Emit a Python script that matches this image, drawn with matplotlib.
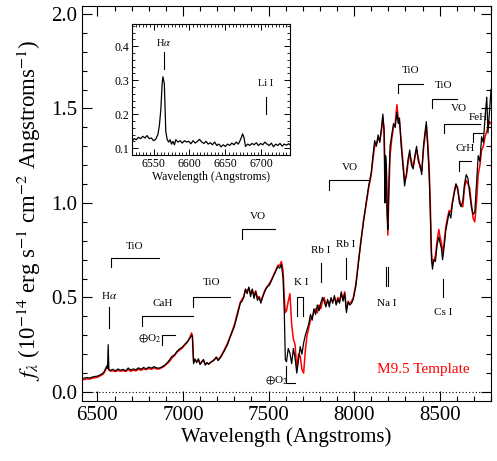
import matplotlib
matplotlib.use("Agg")
import matplotlib.pyplot as plt
from matplotlib.ticker import MultipleLocator

plt.rcParams['font.family'] = ['Liberation Serif', 'DejaVu Serif']
plt.rcParams['mathtext.fontset'] = 'stix'

# ---------------- data ----------------
wave = [6410, 6425, 6440, 6455, 6470, 6485, 6500, 6515, 6530, 6540, 6548, 6555, 6559, 6563, 6567, 6575,
        6590, 6605, 6620, 6635, 6650, 6665, 6680, 6695, 6710, 6725, 6740, 6755, 6770, 6785, 6800, 6815,
        6830, 6845, 6860, 6875, 6890, 6905, 6920, 6935, 6950, 6965, 6980, 6995, 7010, 7025, 7040, 7050,
        7055, 7062, 7070, 7080, 7090, 7100, 7110, 7120, 7130, 7140, 7150, 7165, 7180, 7195, 7205, 7220,
        7240, 7260, 7280, 7300, 7320, 7335, 7345, 7355, 7365, 7375, 7385, 7395, 7405, 7415, 7425, 7435,
        7445, 7455, 7465, 7475, 7485, 7495, 7505, 7515, 7525, 7535, 7545, 7555, 7565, 7575, 7585, 7592,
        7598, 7605, 7615, 7625, 7635, 7645, 7655, 7665, 7675, 7685, 7695, 7705, 7715, 7725, 7735, 7745,
        7755, 7765, 7775, 7785, 7795, 7805, 7815, 7825, 7835, 7845, 7855, 7865, 7875, 7885, 7895, 7905,
        7915, 7925, 7935, 7945, 7955, 7965, 7975, 7985, 7995, 8010, 8025, 8040, 8055, 8070, 8085, 8100,
        8110, 8120, 8130, 8140, 8150, 8160, 8168, 8175, 8180, 8184, 8188, 8192, 8197, 8203, 8210, 8220,
        8230, 8240, 8250, 8258, 8265, 8275, 8285, 8295, 8305, 8315, 8325, 8335, 8345, 8355, 8365, 8375,
        8385, 8395, 8405, 8415, 8422, 8430, 8438, 8445, 8452, 8458, 8465, 8475, 8485, 8495, 8502, 8510,
        8517, 8525, 8535, 8545, 8555, 8565, 8575, 8585, 8595, 8605, 8615, 8625, 8635, 8645, 8655, 8665,
        8675, 8685, 8695, 8705, 8715, 8725, 8735, 8745, 8755, 8765, 8775, 8782, 8792, 8800]

flux_obs = [0.072, 0.074, 0.076, 0.074, 0.079, 0.082, 0.084, 0.090, 0.098, 0.108, 0.125, 0.138, 0.125, 0.250, 0.118, 0.115,
            0.120, 0.112, 0.122, 0.115, 0.120, 0.112, 0.127, 0.116, 0.122, 0.118, 0.128, 0.120, 0.130, 0.122, 0.132, 0.126,
            0.134, 0.128, 0.126, 0.132, 0.140, 0.152, 0.168, 0.188, 0.196, 0.215, 0.228, 0.236, 0.252, 0.266, 0.285, 0.300,
            0.292, 0.150, 0.175, 0.155, 0.176, 0.145, 0.162, 0.172, 0.142, 0.156, 0.146, 0.160, 0.166, 0.186, 0.166, 0.182,
            0.215, 0.250, 0.300, 0.345, 0.415, 0.470, 0.480, 0.500, 0.545, 0.520, 0.555, 0.505, 0.545, 0.495, 0.530, 0.485,
            0.500, 0.470, 0.500, 0.525, 0.545, 0.560, 0.565, 0.585, 0.605, 0.625, 0.645, 0.665, 0.655, 0.675, 0.600, 0.420,
            0.170, 0.160, 0.230, 0.205, 0.150, 0.230, 0.180, 0.100, 0.170, 0.240, 0.200, 0.260, 0.300, 0.330, 0.360, 0.410,
            0.380, 0.440, 0.410, 0.460, 0.430, 0.470, 0.500, 0.480, 0.450, 0.490, 0.450, 0.500, 0.470, 0.510, 0.460, 0.490,
            0.470, 0.530, 0.480, 0.520, 0.420, 0.480, 0.460, 0.470, 0.490, 0.560, 0.680, 0.800, 0.900, 1.000, 1.090, 1.160,
            1.250, 1.330, 1.300, 1.360, 1.320, 1.400, 1.470, 1.380, 1.000, 1.250, 1.200, 0.950, 0.860, 1.100, 1.300, 1.360,
            1.420, 1.400, 1.480, 1.420, 1.450, 1.300, 1.200, 1.090, 1.150, 1.230, 1.280, 1.200, 1.180, 1.250, 1.300, 1.220,
            1.200, 1.150, 1.300, 1.380, 1.430, 1.300, 1.160, 0.950, 0.700, 0.650, 0.700, 0.690, 0.780, 0.820, 0.790, 0.760,
            0.700, 0.760, 0.850, 0.900, 0.950, 0.920, 1.000, 1.050, 1.100, 1.080, 1.000, 0.980, 1.010, 1.100, 1.150, 1.130,
            1.050, 0.980, 0.940, 0.950, 1.100, 1.250, 1.220, 1.350, 1.320, 1.450, 1.560, 1.370, 1.500, 1.600]

flux_tmpl = [0.065, 0.066, 0.070, 0.068, 0.073, 0.076, 0.078, 0.085, 0.092, 0.102, 0.118, 0.130, 0.128, 0.125, 0.118, 0.110,
             0.112, 0.108, 0.114, 0.110, 0.113, 0.108, 0.118, 0.110, 0.115, 0.112, 0.120, 0.115, 0.122, 0.118, 0.125, 0.120,
             0.128, 0.122, 0.122, 0.128, 0.135, 0.148, 0.160, 0.180, 0.192, 0.210, 0.222, 0.232, 0.248, 0.262, 0.288, 0.312,
             0.300, 0.160, 0.170, 0.160, 0.172, 0.150, 0.158, 0.165, 0.148, 0.152, 0.150, 0.158, 0.170, 0.180, 0.172, 0.188,
             0.220, 0.258, 0.305, 0.355, 0.425, 0.475, 0.490, 0.505, 0.540, 0.535, 0.550, 0.520, 0.540, 0.510, 0.535, 0.500,
             0.505, 0.480, 0.505, 0.530, 0.550, 0.560, 0.575, 0.590, 0.610, 0.630, 0.650, 0.670, 0.670, 0.690, 0.640, 0.500,
             0.420, 0.430, 0.480, 0.520, 0.360, 0.280, 0.250, 0.120, 0.200, 0.190, 0.120, 0.100, 0.220, 0.300, 0.340, 0.380,
             0.400, 0.420, 0.440, 0.420, 0.460, 0.440, 0.480, 0.500, 0.460, 0.480, 0.470, 0.490, 0.480, 0.500, 0.470, 0.500,
             0.480, 0.520, 0.490, 0.530, 0.440, 0.470, 0.470, 0.480, 0.500, 0.570, 0.690, 0.800, 0.910, 0.990, 1.080, 1.150,
             1.230, 1.300, 1.310, 1.340, 1.330, 1.380, 1.450, 1.390, 1.200, 1.150, 1.200, 1.050, 0.830, 1.050, 1.250, 1.340,
             1.400, 1.420, 1.520, 1.440, 1.430, 1.330, 1.220, 1.120, 1.140, 1.210, 1.260, 1.220, 1.190, 1.240, 1.280, 1.240,
             1.190, 1.170, 1.280, 1.360, 1.410, 1.320, 1.200, 1.000, 0.740, 0.680, 0.690, 0.720, 0.800, 0.860, 0.820, 0.790,
             0.740, 0.780, 0.870, 0.920, 0.960, 0.950, 1.010, 1.060, 1.100, 1.070, 1.020, 0.990, 0.980, 1.080, 1.120, 1.100,
             1.080, 1.000, 0.920, 0.900, 1.000, 1.150, 1.200, 1.280, 1.300, 1.350, 1.380, 1.400, 1.430, 1.420]

inset_wave = [6520, 6523, 6526, 6529, 6532, 6535, 6538, 6541, 6544, 6547, 6550, 6553, 6556, 6558, 6560, 6562,
              6563, 6565, 6566, 6567, 6569, 6571, 6573, 6575, 6577, 6579, 6581, 6584, 6587, 6590, 6593, 6596,
              6599, 6602, 6605, 6608, 6611, 6614, 6617, 6620, 6623, 6626, 6629, 6632, 6635, 6638, 6641, 6644,
              6647, 6650, 6653, 6656, 6659, 6662, 6665, 6668, 6671, 6674, 6676, 6678, 6681, 6684, 6687, 6690,
              6693, 6696, 6699, 6702, 6705, 6708, 6711, 6714, 6717, 6720, 6723, 6726, 6729, 6732, 6735, 6738, 6740]
inset_flux = [0.120, 0.128, 0.125, 0.132, 0.128, 0.135, 0.130, 0.137, 0.128, 0.130, 0.122, 0.126, 0.140, 0.165, 0.210, 0.290,
              0.310, 0.290, 0.220, 0.150, 0.125, 0.118, 0.125, 0.112, 0.120, 0.110, 0.125, 0.118, 0.122, 0.115, 0.122, 0.118,
              0.120, 0.113, 0.122, 0.115, 0.120, 0.126, 0.118, 0.114, 0.120, 0.112, 0.116, 0.110, 0.118, 0.108, 0.112, 0.104,
              0.110, 0.105, 0.112, 0.108, 0.115, 0.110, 0.118, 0.112, 0.125, 0.142, 0.130, 0.105, 0.112, 0.108, 0.114, 0.110,
              0.116, 0.108, 0.114, 0.110, 0.118, 0.112, 0.108, 0.115, 0.104, 0.112, 0.108, 0.114, 0.106, 0.112, 0.109, 0.113, 0.110]

# band brackets: (label, x_start, x_end, y_bar, label_x, label_y)
bands = [("TiO", 6580, 6860, 0.71, 6720, 0.77),
         ("CaH", 6761, 7058, 0.40, 6883, 0.47),
         ("TiO", 7058, 7275, 0.50, 7170, 0.58),
         ("VO", 7345, 7538, 0.86, 7438, 0.93),
         ("VO", 7853, 8081, 1.12, 7976, 1.19),
         ("TiO", 8256, 8402, 1.63, 8332, 1.70),
         ("TiO", 8455, 8601, 1.55, 8525, 1.62),
         ("VO", 8525, 8736, 1.42, 8613, 1.50),
         ("CrH", 8613, 8683, 1.22, 8648, 1.29),
         ("FeH", 8695, 8753, 1.37, 8724, 1.45)]
# single line markers: (label, x, y_low, y_high, label_y)
lines_mk = [(r"H$\alpha$", 6568, 0.34, 0.45, 0.51),
            ("Rb I", 7806, 0.58, 0.68, 0.75),
            ("Rb I", 7952, 0.60, 0.71, 0.78),
            ("Cs I", 8521, 0.50, 0.60, 0.42)]

# ---------------- figure ----------------
fig = plt.figure(figsize=(4.97, 4.61), dpi=100)
ax = fig.add_axes([0.165, 0.130, 0.823, 0.857])

ax.plot(wave, flux_tmpl, color='red', lw=1.1)
ax.plot(wave, flux_obs, color='black', lw=0.9)
ax.axhline(0.0, color='black', ls=(0, (1, 2)), lw=0.8)

ax.set_xlim(6410, 8800)
ax.set_ylim(-0.048, 2.042)
ax.xaxis.set_major_locator(MultipleLocator(500))
ax.xaxis.set_minor_locator(MultipleLocator(100))
ax.yaxis.set_major_locator(MultipleLocator(0.5))
ax.yaxis.set_minor_locator(MultipleLocator(0.1))
ax.tick_params(which='both', direction='in', top=True, right=True, labelsize=15)
ax.tick_params(which='major', length=7, width=0.8)
ax.tick_params(which='minor', length=3.5, width=0.8)
ax.yaxis.set_major_formatter(matplotlib.ticker.FormatStrFormatter('%.1f'))
ax.set_xlabel("Wavelength (Angstroms)", fontsize=15, labelpad=2)
fig.text(0.058, 0.545, r"$f_\lambda$ (10$^{-14}$ erg s$^{-1}$ cm$^{-2}$ Angstroms$^{-1}$)",
         rotation=90, va='center', ha='center', fontsize=16.5)

afs = 8
tick = 0.05
for lab, x0, x1, yb, lx, ly in bands:
    ax.plot([x0, x0, x1], [yb - tick, yb, yb], color='black', lw=0.8)
    ax.text(lx, ly, lab, ha='center', va='center', fontsize=afs)
for lab, x, y0, y1, ly in lines_mk:
    ax.plot([x, x], [y0, y1], color='black', lw=0.8)
    ax.text(x, ly, lab, ha='center', va='center', fontsize=afs)

# O2 telluric brackets
ax.plot([6877, 6877, 6953], [0.25, 0.30, 0.30], color='black', lw=0.8)
ax.text(6807, 0.285, r"$\oplus$O$_2$", ha='center', va='center', fontsize=afs)
ax.plot([7602, 7602, 7655], [0.14, 0.05, 0.05], color='black', lw=0.8)
ax.text(7545, 0.065, r"$\oplus$O$_2$", ha='center', va='center', fontsize=afs)
# K I doublet
ax.plot([7668, 7668, 7700, 7700], [0.40, 0.50, 0.50, 0.40], color='black', lw=0.8)
ax.text(7688, 0.58, "K I", ha='center', va='center', fontsize=afs)
# Na I doublet
ax.plot([8186, 8186], [0.56, 0.66], color='black', lw=0.8)
ax.plot([8196, 8196], [0.56, 0.66], color='black', lw=0.8)
ax.text(8192, 0.47, "Na I", ha='center', va='center', fontsize=afs)

ax.text(8405, 0.12, "M9.5 Template", color='red', ha='center', va='center', fontsize=11)

# ---------------- inset ----------------
ins = fig.add_axes([0.2656, 0.6638, 0.318, 0.284])
ins.plot(inset_wave, inset_flux, color='black', lw=0.9)
ins.set_xlim(6520, 6740)
ins.set_ylim(0.08, 0.465)
ins.xaxis.set_major_locator(MultipleLocator(50))
ins.xaxis.set_minor_locator(MultipleLocator(5))
ins.yaxis.set_major_locator(MultipleLocator(0.1))
ins.yaxis.set_minor_locator(MultipleLocator(0.02))
ins.yaxis.set_major_formatter(matplotlib.ticker.FormatStrFormatter('%.1f'))
ins.tick_params(which='both', direction='in', top=True, right=True, labelsize=8.5, pad=2)
ins.tick_params(which='major', length=4, width=0.7)
ins.tick_params(which='minor', length=2, width=0.6)
ins.set_xlabel("Wavelength (Angstroms)", fontsize=8.5, labelpad=1)
ins.plot([6564.5, 6564.5], [0.334, 0.383], color='black', lw=0.8)
ins.text(6564.5, 0.41, r"H$\alpha$", ha='center', va='center', fontsize=7.5)
ins.plot([6706, 6706], [0.20, 0.25], color='black', lw=0.8)
ins.text(6706, 0.29, "Li I", ha='center', va='center', fontsize=7.5)

fig.savefig("out.png", dpi=100)
